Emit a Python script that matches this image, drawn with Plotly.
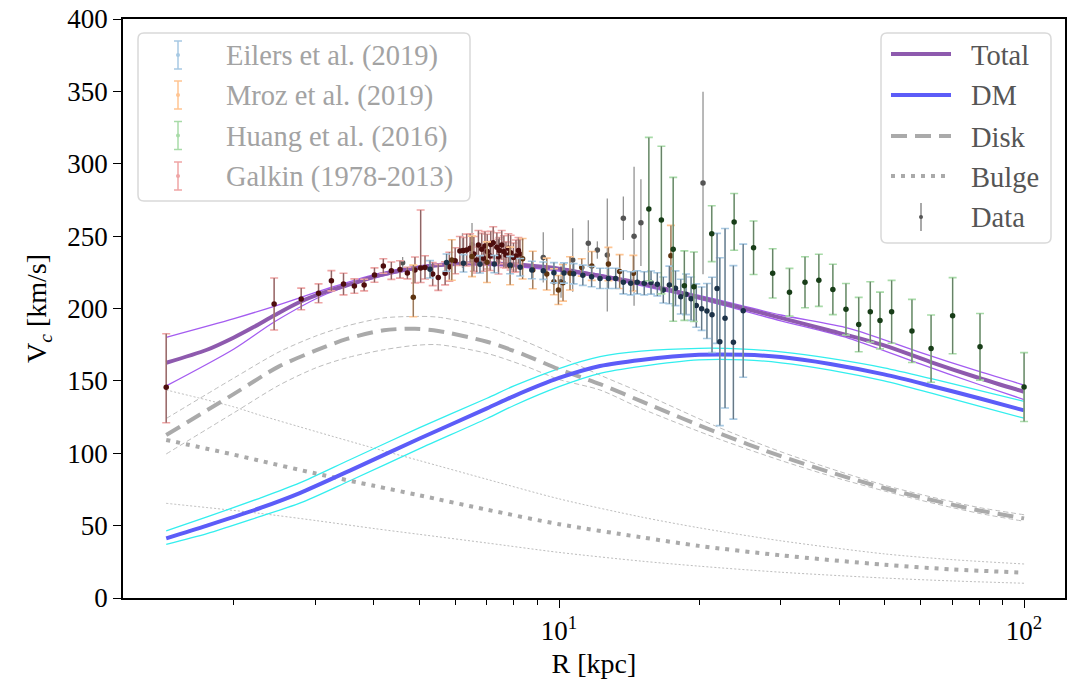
import plotly.graph_objects as go

# ---------------- model curves (R [kpc], V [km/s]) ----------------
R_total = [1.43, 1.75, 2.0, 2.2, 2.45, 2.77, 3.16, 3.61, 4.12, 4.70, 5.54, 6.5, 7.5, 8.5, 10, 12, 15, 20, 25, 30, 38, 50, 63, 80, 100]
V_total = [162.5, 171.5, 180, 187, 195.5, 204.5, 211.6, 217.4, 223.1, 227, 230, 231.3, 231, 229.8, 227.5, 223, 217.4, 207.7, 200.1, 193.5, 185, 174.5, 163, 152, 142.5]
R_total_band = [1.43, 2.0, 2.45, 3.16, 4.12, 5.5, 8, 12, 20, 30, 42, 60, 80, 100]
V_total_hi = [180.1, 193, 201.7, 213.5, 224.5, 231, 231, 224, 209, 195.5, 186.3, 169.5, 156.5, 147.1]
V_total_lo = [146.5, 172, 191, 210, 222, 229.5, 229, 222, 206.5, 191.5, 179.4, 161.5, 147.5, 137.1]

R_dm = [1.43, 1.75, 2.27, 2.77, 3.55, 5, 7, 8, 10, 12.25, 15, 20, 25, 30, 38.3, 50, 63.2, 80, 100]
V_dm = [41.2, 50, 62, 72.5, 88, 110, 131, 139.5, 152, 160.3, 164.5, 168, 168, 166.5, 161.7, 154.5, 146.5, 138, 129.6]
V_dm_hi = [46.3, 56, 68.9, 79.5, 95.5, 117.5, 138, 146.5, 158.5, 166.7, 170.5, 172.5, 172, 170, 165.5, 159, 151.5, 143.5, 135.9]
V_dm_lo = [37.1, 44.5, 56.2, 65.5, 81, 103, 124, 133, 146, 155.2, 160, 164.5, 164.5, 162.5, 157.5, 150, 141.5, 132.5, 124.2]

R_disk = [1.43, 2.0, 2.5, 3.0, 3.5, 4.2, 4.9, 5.5, 7, 8.5, 10, 12.25, 15, 22, 30, 40, 50, 60, 70, 80, 100]
V_disk = [112.6, 141, 160, 171, 179, 185, 186, 184.5, 177, 167.5, 158, 147.8, 136, 114, 98, 85, 76, 69.5, 64.5, 60.5, 55]
V_disk_hi = [124, 152, 170, 181, 188, 193.5, 194.5, 194, 187, 177, 167, 154, 142, 118, 101, 87.5, 78, 71.5, 66.5, 62.5, 57.5]
V_disk_lo = [99.5, 128, 147, 159, 166, 171.5, 174.5, 175, 169, 160, 151, 143.7, 131, 110, 95, 82.5, 74, 67.5, 62.5, 58.5, 53]

R_bulge = [1.43, 2.0, 2.27, 3.0, 4.0, 5.0, 7.0, 10, 15, 20, 30, 50, 70, 100]
V_bulge = [109.2, 99, 94.9, 86, 77.5, 71, 61, 51, 42, 36, 29.5, 23, 19.8, 17.5]
V_bulge_hi = [143.7, 132, 126.4, 115, 103.5, 95, 82, 68.5, 56, 48.5, 39.5, 30.5, 26.5, 23.5]
V_bulge_lo = [65.4, 60.5, 58.5, 53.5, 48, 44, 38, 31.5, 25.5, 22, 17.8, 13.8, 11.8, 10.2]

# ---------------- observational data ----------------
R_galkin = [1.43, 2.44, 2.79, 3.04, 3.24, 3.44, 3.63, 3.81, 4.01, 4.19, 4.36, 4.55, 4.72, 4.90, 5.04, 5.15,
            5.35, 5.50, 5.69, 5.81, 5.98, 6.12, 6.23, 6.33, 6.44, 6.56, 6.65, 6.71, 6.82, 6.88, 6.93, 7.01,
            7.11, 7.13, 7.22, 7.35, 7.41, 7.44, 7.53, 7.61, 7.69, 7.78, 7.87, 7.98, 8.08, 8.18, 8.24]
V_galkin = [145.6, 203.1, 206.6, 210.5, 219.2, 216.9, 215.5, 216.2, 223.1, 229.4, 226.1, 227.0, 224.5, 226.6,
            228.0, 228.4, 223.8, 221.5, 224.3, 228.9, 233.0, 239.7, 240.0, 240.4, 241.6, 237.7, 233.5, 243.9,
            240.9, 234.7, 243.2, 239.3, 236.3, 244.3, 245.5, 242.3, 235.8, 240.0, 243.9, 239.3, 237.0, 241.6,
            238.6, 235.3, 236.3, 240.0, 237.7]
E_galkin_hi = [37, 18, 7.5, 6.5, 7, 7.5, 5, 4, 5, 5, 6, 6, 4, 9, 40, 8, 8, 9, 8, 10, 9, 10, 9, 11, 10, 12,
               9, 10, 11, 9, 10, 12, 10, 9, 11, 10, 12, 9, 10, 11, 9, 10, 12, 10, 11, 9, 10]
E_galkin_lo = [24.5, 18, 7.5, 6.5, 7, 7.5, 5, 4, 5, 5, 6, 6, 4, 9, 10, 8, 8, 9, 8, 10, 9, 10, 9, 11, 10, 12,
               9, 10, 11, 9, 10, 12, 10, 9, 11, 10, 12, 9, 10, 11, 9, 10, 12, 10, 11, 9, 10]

R_mroz = [4.86, 5.88, 6.5, 7.0, 7.85, 8.35, 8.78, 9.41, 9.75, 9.97, 10.2, 10.56, 11.19, 11.76, 12.77, 13.5, 14.45, 17.4]
V_mroz = [207.7, 233.5, 236, 232, 229.4, 234.4, 226.6, 223.8, 218.5, 212.8, 217.8, 224.3, 228.4, 229.4, 230.7, 225.5, 224.4, 236.4]
E_mroz_hi = [22.3, 14, 14, 14, 13, 14, 13, 11, 9, 10, 12.7, 11.5, 6, 10, 11.5, 11.7, 12.3, 21]
E_mroz_lo = [13.4, 14, 14, 14, 13, 14, 13, 11, 9, 10, 12.7, 11.5, 6, 10, 11.5, 11.7, 12.3, 21]

R_eilers = [5.28, 5.73, 6.23, 6.76, 7.26, 7.85, 8.25, 8.74, 9.25, 9.75, 10.25, 10.75, 11.25, 11.75, 12.25,
            12.77, 13.24, 13.75, 14.26, 14.73, 15.25, 15.77, 16.27, 16.76, 17.27, 17.8, 18.27, 18.75, 19.23,
            19.73, 20.26, 20.8, 21.33, 21.87, 22.17, 22.75, 23.71, 24.89]
V_eilers = [227.1, 231.7, 231.2, 230.5, 230.7, 230.0, 228.5, 226.6, 226.1, 224.7, 224.5, 224.0, 223.0, 222.0,
            220.8, 220.8, 220.8, 218.1, 217.4, 218.1, 217.4, 217.9, 216.7, 212.8, 216.3, 214.0, 208.2, 209.8,
            206.8, 202.0, 199.9, 198.3, 195.6, 213.9, 177.1, 193.3, 176.6, 198.5]
E_eilers = [6, 6, 6, 6, 6, 6, 6, 6, 6, 7, 7, 7, 7, 7, 7, 7, 7, 8, 8, 8, 8, 8, 8, 9, 13, 12, 12, 14, 15, 15,
            15, 19, 26, 38, 58, 62, 53, 46]

R_huang = [15.6, 16.6, 17.6, 18.6, 19.5, 21.3, 23.8, 26.2, 28.8, 31.3, 33.8, 36.2, 38.8, 41.4, 44.1, 46.7,
           49.0, 51.9, 57.4, 63.1, 70.2, 80.4, 100]
V_huang = [268.7, 261.1, 240.9, 215.8, 215.0, 251.7, 259.8, 242.0, 224.3, 211.2, 218.1, 219.5, 213.2, 199.5,
           188.9, 197.7, 191.7, 197.7, 184.5, 172.3, 195.0, 173.5, 145.7]
E_huang = [49.5, 51, 49.7, 24, 24, 19.3, 19.6, 18.5, 17, 16.5, 17.6, 18, 17.4, 17.8, 18.8, 20.8, 19.6, 21.7,
           21.8, 23.2, 26.3, 23, 23.8]

R_other = [4.61, 6.2, 6.5, 9.25, 10.1, 10.7, 11.56, 12.09, 12.7, 13.75, 14.5, 15.0, 20.4]
V_other = [231.6, 240, 244, 235.3, 218.5, 233.5, 245.0, 240.4, 237, 262.3, 249.9, 259.3, 286.7]
E_other = [4, 12, 15, 17.3, 11, 21.9, 16, 6, 39, 15, 48, 30, 63]

legend_left = ["Eilers et al. (2019)", "Mroz et al. (2019)", "Huang et al. (2016)", "Galkin (1978-2013)"]
legend_right = ["Total", "DM", "Disk", "Bulge", "Data"]

x_ticks = [10, 100]
x_ticktext = ["10<sup>1</sup>", "10<sup>2</sup>"]
x_minor = [2, 3, 4, 5, 6, 7, 8, 9, 20, 30, 40, 50, 60, 70, 80, 90]
y_ticks = [0, 50, 100, 150, 200, 250, 300, 350, 400]

# ---------------- styling ----------------
FONT = "Liberation Serif"
W, H = 1074, 688
# plot-area bounds in pixels (page body margin removed by post_script)
L, R_, T, B = 123, 1065, 19, 598

C_TOTAL = "#8e5aae"
C_TOTAL_B = "#a45cf0"
C_DM = "#5c5cf8"
C_DM_B = "#33eeee"
C_GREY = "#aaaaaa"
C_GREY_B = "#bdbdbd"

fig = go.Figure()


def curve(x, y, color, width, dash="solid"):
    fig.add_trace(go.Scatter(x=x, y=y, mode="lines", line=dict(color=color, width=width, dash=dash, shape="spline", smoothing=0.8),
                             showlegend=False, hoverinfo="skip"))


# bounds (thin) then main curves
curve(R_bulge, V_bulge_hi, C_GREY_B, 1, "2px,2px")
curve(R_bulge, V_bulge_lo, C_GREY_B, 1, "2px,2px")
curve(R_disk, V_disk_hi, C_GREY_B, 1, "5px,3px")
curve(R_disk, V_disk_lo, C_GREY_B, 1, "5px,3px")
curve(R_dm, V_dm_hi, C_DM_B, 1.3)
curve(R_dm, V_dm_lo, C_DM_B, 1.3)
curve(R_total_band, V_total_hi, C_TOTAL_B, 1.3)
curve(R_total_band, V_total_lo, C_TOTAL_B, 1.3)
curve(R_bulge, V_bulge, C_GREY, 4, "4px,6px")
curve(R_disk, V_disk, C_GREY, 4, "16px,8px")
curve(R_dm, V_dm, C_DM, 4)
curve(R_total, V_total, C_TOTAL, 4)


def data(x, y, ehi, elo, light, marker):
    if light is not None:
        fig.add_trace(go.Scatter(x=x, y=y, mode="markers", marker=dict(size=1, color="rgba(0,0,0,0)"),
                                 error_y=dict(type="data", array=ehi, arrayminus=elo, symmetric=False,
                                              color=light, thickness=1.6, width=4),
                                 showlegend=False, hoverinfo="skip"))
    fig.add_trace(go.Scatter(x=x, y=y, mode="markers", marker=dict(size=5.5, color=marker),
                             error_y=dict(type="data", array=ehi, arrayminus=elo, symmetric=False,
                                          color="rgba(40,40,40,0.5)", thickness=1.3, width=0),
                             showlegend=False, hoverinfo="skip"))


data(R_other, V_other, E_other, E_other, None, "#555555")
data(R_galkin, V_galkin, E_galkin_hi, E_galkin_lo, "#efa5a5", "#4d0d0d")
data(R_mroz, V_mroz, E_mroz_hi, E_mroz_lo, "#ffc592", "#5e3410")
data(R_eilers, V_eilers, E_eilers, E_eilers, "#a7c9e3", "#1c3248")
data(R_huang, V_huang, E_huang, E_huang, "#a8dba8", "#183d18")


# ---------------- legends (drawn in pixel space) ----------------
def px(x):
    return (x - L) / (R_ - L)


def py(y):
    return (B - y) / (B - T)


shapes = []
annotations = []


def rounded_box(x0, y0, x1, y1, r=6):
    rx, ry = r / (R_ - L), r / (B - T)
    X0, X1, Y0, Y1 = px(x0), px(x1), py(y1), py(y0)
    path = (f"M {X0+rx},{Y0} L {X1-rx},{Y0} Q {X1},{Y0} {X1},{Y0+ry} L {X1},{Y1-ry} Q {X1},{Y1} {X1-rx},{Y1} "
            f"L {X0+rx},{Y1} Q {X0},{Y1} {X0},{Y1-ry} L {X0},{Y0+ry} Q {X0},{Y0} {X0+rx},{Y0} Z")
    shapes.append(dict(type="path", xref="paper", yref="paper", path=path,
                       fillcolor="rgba(255,255,255,0.85)", line=dict(color="#d9d9d9", width=1.5), layer="above"))


def hline(x0, x1, y, color, width, dash="solid"):
    shapes.append(dict(type="line", xref="paper", yref="paper", x0=px(x0), x1=px(x1), y0=py(y), y1=py(y),
                       line=dict(color=color, width=width, dash=dash), layer="above"))


def vline(x, y0, y1, color, width):
    shapes.append(dict(type="line", xref="paper", yref="paper", x0=px(x), x1=px(x), y0=py(y0), y1=py(y1),
                       line=dict(color=color, width=width), layer="above"))


def dot(x, y, r, color):
    shapes.append(dict(type="circle", xref="paper", yref="paper", x0=px(x - r), x1=px(x + r), y0=py(y + r), y1=py(y - r),
                       fillcolor=color, line=dict(width=0), layer="above"))


def label(x, y, text, color):
    annotations.append(dict(xref="paper", yref="paper", x=px(x), y=py(y), text=text, showarrow=False,
                            xanchor="left", yanchor="middle", font=dict(family=FONT, size=28.5, color=color)))


# left legend
rounded_box(138, 33, 470, 201)
left_cols = ["#a7c9e3", "#ffc592", "#a8dba8", "#efa5a5"]
left_y = [55, 95, 135.5, 176]
for name, col, yy in zip(legend_left, left_cols, left_y):
    vline(178, yy - 14, yy + 14, col, 1.5)
    hline(174, 182, yy - 14, col, 1.5)
    hline(174, 182, yy + 14, col, 1.5)
    dot(178, yy, 2, col)
    label(224, yy + 1, name, "#a3a3a3")

# right legend
rounded_box(881, 33, 1051, 243)
right_y = [54, 95, 136, 176, 217]
hline(891, 951, right_y[0], C_TOTAL, 4)
hline(891, 951, right_y[1], C_DM, 4)
hline(891, 951, right_y[2], C_GREY, 4, "16px,8px")
hline(891, 951, right_y[3], C_GREY, 4, "4px,6px")
vline(921, right_y[4] - 14, right_y[4] + 14, "#8c8c8c", 1.5)
dot(921, right_y[4], 2, "#555555")
for name, yy in zip(legend_right, right_y):
    label(969, yy + 1, name, "#555555")

axis_common = dict(showline=True, linecolor="black", linewidth=1.6, mirror=True, showgrid=False, zeroline=False,
                   ticks="outside", tickcolor="black", tickwidth=1.4, ticklen=8, automargin=False,
                   ticklabeloverflow="allow",
                   tickfont=dict(family=FONT, size=27, color="black"))

fig.update_layout(
    width=W, height=H,
    margin=dict(l=L, r=W - R_, t=T, b=H - B, autoexpand=False),
    paper_bgcolor="white", plot_bgcolor="white",
    showlegend=False,
    shapes=shapes, annotations=annotations,
    xaxis=dict(type="log", range=[0.0624, 2.088], tickmode="array", tickvals=x_ticks, ticktext=x_ticktext,
               minor=dict(tickmode="array", tickvals=x_minor, ticks="outside", ticklen=5, tickwidth=1.2, tickcolor="black"),
               title=dict(text="R [kpc]", font=dict(family=FONT, size=28, color="black"), standoff=8),
               **axis_common),
    yaxis=dict(range=[0, 400], tickmode="array", tickvals=y_ticks,
               title=dict(text="V<sub><i>c</i></sub> [km/s]", font=dict(family=FONT, size=28, color="black"), standoff=12),
               **axis_common),
)

fig.write_html("out.html", config={"displayModeBar": False},
               post_script="document.body.style.margin='0';document.body.style.overflow='hidden';")
